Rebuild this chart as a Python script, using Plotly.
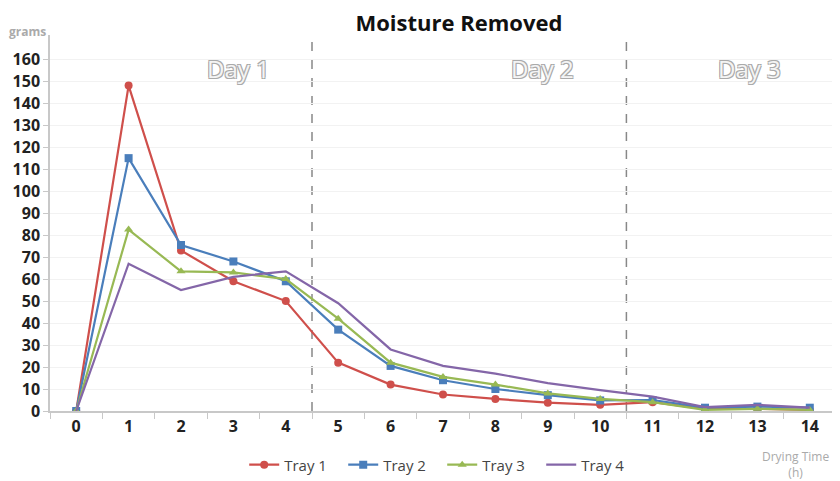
import plotly.graph_objects as go

hours = list(range(15))
tray1 = [0, 148, 73, 59, 50, 22, 12, 7.5, 5.5, 3.8, 2.8, 4, 1, 1, 0.5]
tray2 = [0, 115, 75.5, 68, 59, 37, 20.5, 14, 10, 7.2, 4.8, 5, 1.5, 2, 1.5]
tray3 = [0, 82.5, 63.5, 63, 60, 42, 22, 15.5, 12, 8, 5.5, 4, 0.5, 1, 0.5]
tray4 = [0, 67, 55, 61, 63.5, 49, 28, 20.5, 17, 12.7, 9.5, 6.5, 1.8, 2.8, 1.5]
day_labels = ["Day 1", "Day 2", "Day 3"]
day_pos = [3.1, 8.9, 12.85]
day_breaks = [4.5, 10.5]

series = [
    ("Tray 1", tray1, "#cf4f4b", "circle", 8),
    ("Tray 2", tray2, "#4a7ebb", "square", 8),
    ("Tray 3", tray3, "#98b954", "triangle-up", 8),
    ("Tray 4", tray4, "#8466a8", None, 0),
]

fig = go.Figure()
for name, vals, color, sym, size in series:
    fig.add_trace(go.Scatter(
        x=hours, y=vals, name=name,
        mode="lines+markers" if sym else "lines",
        line=dict(color=color, width=2.2),
        marker=dict(symbol=sym or "circle", size=size, color=color),
    ))

for xb in day_breaks:
    fig.add_shape(type="line", x0=xb, x1=xb, y0=0, y1=1, xref="x", yref="paper",
                  line=dict(color="#888", width=1.5, dash="dash"), layer="below")

outline = "-1px -1px 0 #aaa, 1px -1px 0 #aaa, -1px 1px 0 #aaa, 1px 1px 0 #aaa"
for lbl, xp in zip(day_labels, day_pos):
    fig.add_annotation(x=xp, y=0.912, xref="x", yref="paper", text=lbl, showarrow=False,
                       yanchor="middle",
                       font=dict(family="Open Sans", size=24, color="#f4f4f4", shadow=outline))

fig.add_annotation(x=-0.0547, y=1.01, xref="paper", yref="paper", text="<b>grams</b>",
                   showarrow=False, xanchor="left", yanchor="middle",
                   font=dict(family="Open Sans", size=12, color="#aaa"))
fig.add_annotation(x=0.948, y=-0.093, xref="paper", yref="paper", text="Drying Time<br>(h)",
                   showarrow=False, xanchor="center", yanchor="top",
                   font=dict(family="Open Sans", size=12, color="#aaa"))

# page is offset by the default body margin, so size the figure to fit the window
fig.update_layout(
    width=832, height=473,
    margin=dict(l=42, r=4, t=27, b=70),
    paper_bgcolor="white", plot_bgcolor="white",
    title=dict(text="<b>Moisture Removed</b>", x=0.542, xanchor="center",
               y=0.968, yanchor="middle",
               font=dict(family="Open Sans", size=22, color="#111")),
    legend=dict(orientation="h", x=0.499, xanchor="center",
                y=0.034, yref="container", yanchor="middle",
                font=dict(family="Open Sans", size=15, color="#444"),
                entrywidth=54, entrywidthmode="pixels", itemwidth=30),
    font=dict(family="Open Sans"),
)
fig.update_xaxes(
    range=[-0.5, 14.5], tickvals=hours, ticks="", showgrid=False,
    showline=True, linecolor="#c8c8c8", linewidth=1.5,
    tickfont=dict(size=16, color="#222", weight="bold"),
    minor=dict(ticks="outside", tick0=0.5, dtick=1, ticklen=6, tickcolor="#c8c8c8"),
    zeroline=False,
)
fig.update_yaxes(
    range=[0, 171], tickvals=list(range(0, 161, 10)), ticks="outside", ticklen=5,
    tickcolor="#c8c8c8", showline=True, linecolor="#c8c8c8", linewidth=1.5,
    showgrid=True, gridcolor="#f2f2f2",
    tickfont=dict(size=16, color="#222", weight="bold"), zeroline=False,
)

fig.write_html("out.html")
